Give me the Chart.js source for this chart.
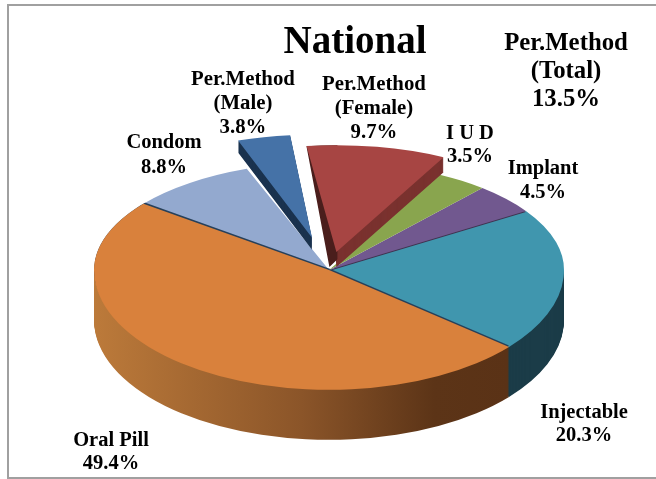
<!DOCTYPE html>
<html><head><meta charset="utf-8">
<style>
html,body{margin:0;padding:0;background:#fff;overflow:hidden}
#wrap{position:relative;width:656px;height:479px;overflow:hidden}
#frame{position:absolute;left:7px;top:4px;width:700px;height:471px;border:2px solid #a0a0a0;pointer-events:none}
canvas{position:absolute;left:0;top:0}
</style>
<script src="https://cdn.jsdelivr.net/npm/chart.js@4"></script>
</head><body>
<div id="wrap"><canvas id="c" width="656" height="479"></canvas><div id="frame"></div></div>
<script>
const titleText = 'National';
const categories = ['Oral Pill','Condom','Per.Method\n(Male)','Per.Method\n(Female)','I U D','Implant','Injectable'];
const values = [49.4,8.8,3.8,9.7,3.5,4.5,20.3];
const colors = ['#D9813C','#93A9CF','#4572A7','#A74543','#89A54E','#71588F','#4096AE'];
const wallColors = ['', '', '#1A324E', '#7A322F', '', '', '#1B3C48'];
const explode = [0,0,72,40,0,0,0];
const extraLabel = ['Per.Method','(Total)','13.5%'];

// label anchors (centre x, first line y, line height, font size), same order as categories
const labelPos = [[111,441,23,20.5],[164,143,25,20.5],[243,80,24,20.8],[374,85,24,20.8],[470,134,23,20.5],[543,169,24,20.5],[584,413,23,20.5]];
const extraPos = [566,44,28,24.8];
const titlePos = [355,43,39];
const squashTop = 0.46, squashBottom = 0.51, depth = 50;
const sliceRadiusMale = 224, sliceRadiusFemale = 232;
const spinMale = 1.2, spinFemale = -0.6;

function paint(ctx, el, color){
  const o = el.options;
  el.options = Object.assign({}, o, {backgroundColor:color});
  el.draw(ctx);
  el.options = o;
}
function half(ctx, cx, cy, isTop, fn, shift=0, noClip=false){
  ctx.save();
  if(!noClip){
    ctx.beginPath();
    if(isTop) ctx.rect(0,0,656,cy+shift); else ctx.rect(0,cy+shift,656,479-cy-shift);
    ctx.clip();
  }
  ctx.translate(cx,cy+shift); ctx.scale(1,isTop?squashTop:squashBottom); ctx.translate(-cx,-cy);
  fn();
  ctx.restore();
}
// exploded slice: the library arc, slid out along its mid-angle and scaled about its tip
function sliceTip(el, dist){
  const h = (el.startAngle+el.endAngle)/2;
  return {x: el.x+Math.cos(h)*dist, y: el.y+Math.sin(h)*dist*squashTop};
}
function exploded(ctx, el, tip, s, deg, color){
  ctx.save();
  ctx.translate(tip.x,tip.y); ctx.scale(s,s); ctx.translate(-el.x,-el.y);
  half(ctx,el.x,el.y,true,()=>{
    ctx.translate(el.x,el.y); ctx.rotate(deg*Math.PI/180); ctx.translate(-el.x,-el.y);
    if(color) paint(ctx,el,color); else el.draw(ctx);
  },0,true);
  ctx.restore();
}

const pie3d = {
  id:'pie3d',
  beforeDatasetsDraw(chart){
    const ctx = chart.ctx, arcs = chart.getDatasetMeta(0).data;
    const cx = arcs[0].x, cy = arcs[0].y, R = arcs[0].outerRadius;
    const [oral,condom,male,female,iud,implant,inj] = arcs;

    const grad = ctx.createLinearGradient(cx-R,0,cx+180,0);
    grad.addColorStop(0,'#BC7A3A'); grad.addColorStop(.5,'#8B5529'); grad.addColorStop(.82,'#5C3417'); grad.addColorStop(1,'#5A3216');
    for(let d=depth;d>=1;d--){
      half(ctx,cx,cy,false,()=>paint(ctx,inj,wallColors[6]),d);
      half(ctx,cx,cy,false,()=>paint(ctx,oral,grad),d);
    }
    [true,false].forEach(t=>half(ctx,cx,cy,t,()=>{
      inj.draw(ctx); condom.draw(ctx);
    }));
    [true,false].forEach(t=>half(ctx,cx,cy,t,()=>{
      ctx.beginPath(); ctx.arc(cx,cy,R,0,Math.PI*2); ctx.clip();
      ctx.translate(0,-1.6/(t?squashTop:squashBottom));
      paint(ctx,oral,'#27405A');
    }));
    [true,false].forEach(t=>half(ctx,cx,cy,t,()=>{ oral.draw(ctx); }));
    half(ctx,cx,cy,true,()=>{
      ctx.save(); ctx.translate(0,1/squashTop); paint(ctx,implant,'#3F3350'); ctx.restore();
      implant.draw(ctx); iud.draw(ctx);
    });

    const tipM = sliceTip(male,explode[2]), sM = sliceRadiusMale/R;
    for(let d=12;d>=1;d--){
      ctx.save(); ctx.translate(0,d);
      exploded(ctx,male,tipM,sM,spinMale,wallColors[2]);
      ctx.restore();
    }
    exploded(ctx,male,tipM,sM,spinMale);

    const tipF = sliceTip(female,explode[3]), sF = sliceRadiusFemale/R;
    ctx.save(); ctx.beginPath(); ctx.rect(tipF.x,0,656,479); ctx.clip();
    for(let d=15;d>=1;d--){
      ctx.save(); ctx.translate(0,d);
      exploded(ctx,female,tipF,sF,spinFemale,wallColors[3]);
      ctx.restore();
    }
    ctx.restore();
    ctx.save(); ctx.beginPath(); ctx.rect(0,0,tipF.x+1,479); ctx.clip();
    const topY = tipF.y-sliceRadiusFemale*squashTop, k = 1+15/(tipF.y-topY), sh = -7/(tipF.y-topY);
    ctx.transform(1,0,sh,k,-sh*topY,topY-k*topY);
    exploded(ctx,female,tipF,sF,spinFemale,'#4A1E1C');
    ctx.restore();
    exploded(ctx,female,tipF,sF,spinFemale);
    return false;
  },
  afterDraw(chart){
    const ctx = chart.ctx;
    ctx.save();
    ctx.fillStyle='#000'; ctx.textAlign='center'; ctx.textBaseline='middle';
    const block=(lines,[x,y,lh,fs])=>{
      ctx.font='bold '+fs+'px "Liberation Serif"';
      lines.forEach((s,i)=>ctx.fillText(s,x,y+i*lh));
    };
    categories.forEach((c,i)=>block([...c.split('\n'),values[i].toFixed(1)+'%'],labelPos[i]));
    block(extraLabel,extraPos);
    ctx.font='bold '+titlePos[2]+'px "Liberation Serif"';
    ctx.fillText(titleText,titlePos[0],titlePos[1]);
    ctx.restore();
  }
};

new Chart(document.getElementById('c'),{
  type:'pie',
  data:{labels:categories,datasets:[{data:values,backgroundColor:colors,borderWidth:0,clip:false}]},
  options:{
    responsive:false,animation:false,
    rotation:130,radius:235,
    layout:{padding:{left:2,top:61}},
    plugins:{legend:{display:false},tooltip:{enabled:false},title:{display:false}},
    events:[]
  },
  plugins:[pie3d]
});
</script>
</body></html>
